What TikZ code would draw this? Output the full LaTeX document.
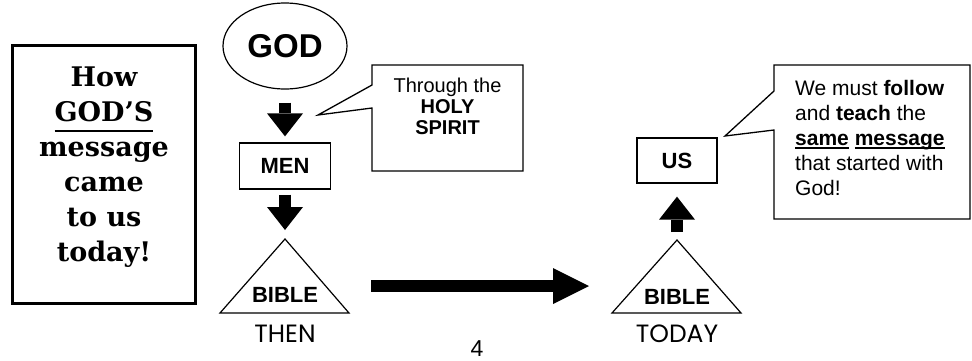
\documentclass[tikz,border=0pt]{standalone}
\usepackage{fontspec}
\setmainfont{Liberation Sans}
\newfontfamily\serifhead{DejaVu Serif}
\newfontfamily\geosans{Poppins}
\usetikzlibrary{shapes.geometric,arrows.meta,calc}
% underline at a fixed depth below the baseline: #1 depth, #2 thickness, #3 text
\newcommand\lineunder[3]{\setbox0\hbox{#3}\rlap{\rule[#1]{\wd0}{#2}}\box0\relax}

\begin{document}
\begin{tikzpicture}[x=1pt,y=-1pt,
  every node/.style={inner sep=0pt},
  boxline/.style={draw, line width=1.3pt, line join=miter},
  blockarrow/.style={line width=#1, -{Triangle[width=36pt,length=23pt,line width=0pt]}},
  tag/.style={font=\bfseries\fontsize{22}{22}\selectfont},
  note/.style={font=\fontsize{20}{21}\selectfont},
  widenote/.style={font=\fontsize{21}{25}\selectfont},
  era/.style={font=\geosans\fontsize{25}{25}\selectfont},
]
\useasboundingbox (0,0) rectangle (972,360);

% title panel on the left
\node[draw, line width=2.6pt, minimum width=183pt, minimum height=258pt] (panel) at (104,174.5) {};
\node[anchor=north, align=center, font=\serifhead\bfseries\fontsize{27}{35}\selectfont] (title) at (104,67)
  {How\\\lineunder{-10pt}{2pt}{GOD’S}\\message\\came\\to us\\today!};

% THEN column
\node[draw, ellipse, line width=1.2pt, minimum width=124pt, minimum height=86pt,
      font=\bfseries\fontsize{33}{33}\selectfont] (god) at (285,46) {GOD};
\node[boxline, minimum width=91pt, minimum height=46pt, tag] (men) at (285,166) {MEN};
\coordinate (apex1) at (285,239);
\draw[line width=1.2pt, line join=miter] (apex1) -- (349,313) -- (220,313) -- cycle;
\node[tag] (bible1) at (285,295) {BIBLE};
\node[era] (then) at (285,334) {THEN};

\draw[blockarrow=12pt, shorten <=13pt, shorten >=6pt] (god.south) -- (men.north);
\draw[blockarrow=12pt, shorten <=5pt, shorten >=9pt] (men.south) -- (apex1);

% callout: Holy Spirit
\draw[boxline] (372,65) -- (523,65) -- (523,171) -- (372,171) -- (372,108) -- (318,115) -- (372,85) -- cycle;
\node[note, align=center, anchor=north] (spirit) at (447.5,78) {Through the\\\textbf{HOLY}\\\textbf{SPIRIT}};

% from then to today
\coordinate (gostart) at (371,286);
\coordinate (goend) at (589,286);
\draw[line width=12pt, -{Triangle[width=36pt,length=36pt,line width=0pt]}] (gostart) -- (goend);

% page number
\node[font=\fontsize{23}{23}\selectfont] (page) at (477,348.5) {4};

% TODAY column
\coordinate (apex2) at (677,240);
\draw[line width=1.2pt, line join=miter] (apex2) -- (741,313) -- (612,313) -- cycle;
\node[tag] (bible2) at (677,297) {BIBLE};
\node[era] (today) at (677,334) {TODAY};
\node[boxline, minimum width=80pt, minimum height=45pt, tag] (us) at (677,160.5) {US};
\draw[blockarrow=12pt, shorten <=8pt, shorten >=13pt] (apex2) -- (us.south);

% callout: our task
\draw[boxline] (774,65) -- (970,65) -- (970,219) -- (774,219) -- (774,130) -- (725,136) -- (774,91) -- cycle;
\node[widenote, align=left, anchor=north west] (must) at (795,80)
  {We must \textbf{follow}\\and \textbf{teach} the\\\lineunder{-3.5pt}{1.5pt}{\textbf{same}} \lineunder{-3.5pt}{1.5pt}{\textbf{message}}\\that started with\\God!};
\end{tikzpicture}
\end{document}
